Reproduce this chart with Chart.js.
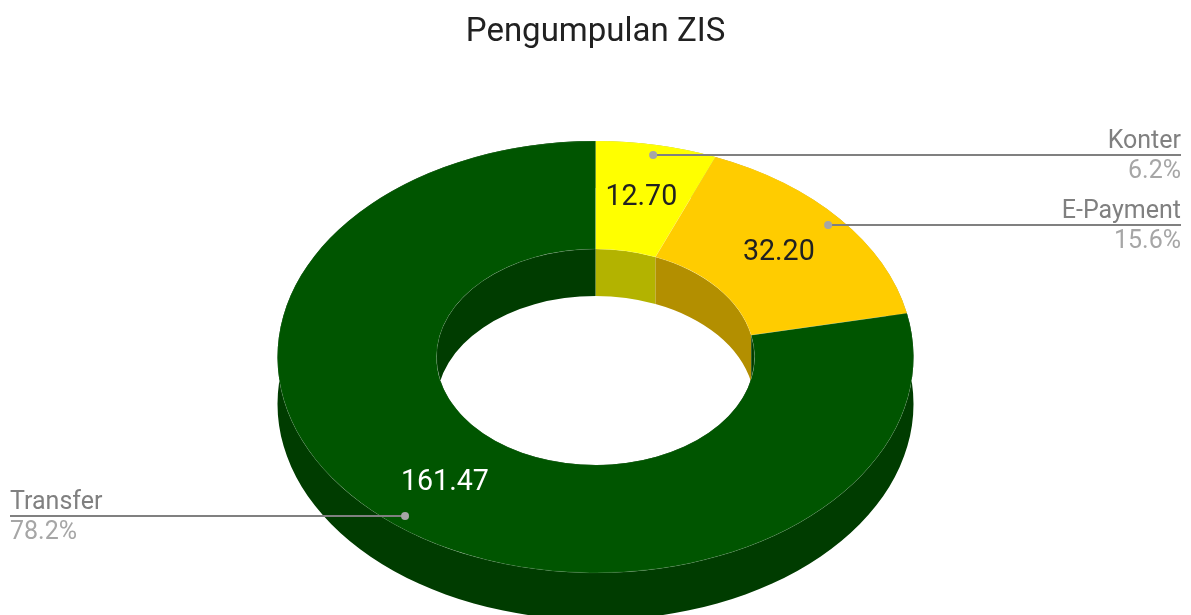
<!DOCTYPE html>
<html>
<head>
<meta charset="utf-8">
<title>Pengumpulan ZIS</title>
<script src="https://cdn.jsdelivr.net/npm/chart.js@4"></script>
<style>
    html, body { margin: 0; padding: 0; background: #ffffff; }
    canvas { display: block; }
</style>
</head>
<body>
<canvas id="chart" width="1191" height="615"></canvas>
<script>
// Data -------------------------------------------------------------------------------------

var categories = ['Konter', 'E-Payment', 'Transfer'];
var values = [12.70, 32.20, 161.47];
var valueLabels = ['12.70', '32.20', '161.47'];
var percentLabels = ['6.2%', '15.6%', '78.2%'];

// Constants --------------------------------------------------------------------------------

var TOP_COLORS = ['#ffff00', '#ffcc00', '#005500'];
var WALL_COLORS = ['#b3b300', '#b38f00', '#003c00'];
var VALUE_TEXT_COLORS = ['#212121', '#212121', '#ffffff'];

var OUTER_RADIUS = 318;
var TILT = 0.679;
var DEPTH = 47;
var LEADER_RADIUS = 300;
var LEADER_NUDGE_X = [0, 2, -1];
var LEADER_NUDGE_Y = [-2, -2, 1];

var FONT_FAMILY = 'Roboto';
var LEADER_COLOR = '#808080';
var DOT_COLOR = '#a6a6a6';
var PERCENT_COLOR = '#a6a6a6';

// Plugin -----------------------------------------------------------------------------------

function squash(ctx, cx, cy) {
    ctx.translate(cx, cy);
    ctx.scale(1, TILT);
    ctx.translate(-cx, -cy);
}

// one extruded band along an arc edge, drawn before the top faces cover it
function fillBand(ctx, arc, radius, color) {
    ctx.save();
    ctx.fillStyle = color;
    ctx.beginPath();
    ctx.save();
    squash(ctx, arc.x, arc.y);
    ctx.arc(arc.x, arc.y, radius, arc.startAngle, arc.endAngle);
    ctx.restore();
    ctx.save();
    ctx.translate(0, DEPTH);
    squash(ctx, arc.x, arc.y);
    ctx.arc(arc.x, arc.y, radius, arc.endAngle, arc.startAngle, true);
    ctx.restore();
    ctx.closePath();
    ctx.fill();
    ctx.restore();
}

var tiltedDonut = {
    id: 'tiltedDonut',
    beforeDatasetsDraw: function (chart) {
        var ctx = chart.ctx;
        var arcs = chart.getDatasetMeta(0).data;
        arcs.forEach(function (arc, i) {
            fillBand(ctx, arc, arc.outerRadius, WALL_COLORS[i]);
            fillBand(ctx, arc, arc.innerRadius, WALL_COLORS[i]);
        });
        ctx.save();
        squash(ctx, arcs[0].x, arcs[0].y);
    },
    afterDatasetsDraw: function (chart) {
        chart.ctx.restore();
    },
    afterDraw: function (chart) {
        var ctx = chart.ctx;
        var arcs = chart.getDatasetMeta(0).data;
        arcs.forEach(function (arc, i) {
            var mid = (arc.startAngle + arc.endAngle) / 2;
            var midRadius = (arc.innerRadius + arc.outerRadius) / 2;
            var squeeze = function (radius) {
                return arc.y + Math.sin(mid) * radius * TILT;
            };

            // value inside the slice
            ctx.font = '28.6px ' + FONT_FAMILY;
            ctx.fillStyle = VALUE_TEXT_COLORS[i];
            ctx.textAlign = 'center';
            ctx.textBaseline = 'alphabetic';
            ctx.fillText(valueLabels[i], arc.x + Math.cos(mid) * midRadius, squeeze(midRadius) + 7);

            // leader line with name above and share below
            var dotX = arc.x + Math.cos(mid) * LEADER_RADIUS + LEADER_NUDGE_X[i];
            var dotY = Math.round(squeeze(LEADER_RADIUS)) + LEADER_NUDGE_Y[i];
            var onRight = dotX > arc.x;
            var edgeX = onRight ? 1181 : 10;

            ctx.strokeStyle = LEADER_COLOR;
            ctx.lineWidth = 2;
            ctx.beginPath();
            ctx.moveTo(dotX, dotY);
            ctx.lineTo(edgeX, dotY);
            ctx.stroke();

            ctx.fillStyle = DOT_COLOR;
            ctx.beginPath();
            ctx.arc(dotX, dotY, 4, 0, Math.PI * 2);
            ctx.fill();

            ctx.font = '25px ' + FONT_FAMILY;
            ctx.textAlign = onRight ? 'right' : 'left';
            ctx.fillStyle = LEADER_COLOR;
            ctx.fillText(categories[i], edgeX, dotY - 7);
            ctx.fillStyle = PERCENT_COLOR;
            ctx.fillText(percentLabels[i], edgeX, dotY + 23);
        });
    }
};

// Chart ------------------------------------------------------------------------------------

var context = document.getElementById('chart').getContext('2d');

var chart = new Chart(context, {
    type: 'doughnut',
    data: {
        labels: categories,
        datasets: [{
            data: values,
            backgroundColor: TOP_COLORS,
            borderColor: 'rgba(255, 255, 255, 0.2)',
            borderWidth: 0.6,
            clip: false
        }]
    },
    options: {
        responsive: false,
        animation: false,
        radius: OUTER_RADIUS,
        cutout: '50%',
        layout: { padding: 0 },
        plugins: {
            legend: { display: false },
            tooltip: { enabled: false },
            title: {
                display: true,
                text: 'Pengumpulan ZIS',
                color: '#212121',
                font: { family: FONT_FAMILY, size: 33, weight: 'normal' },
                padding: { top: 13, bottom: 46.4 }
            }
        }
    },
    plugins: [tiltedDonut]
});
</script>
</body>
</html>
